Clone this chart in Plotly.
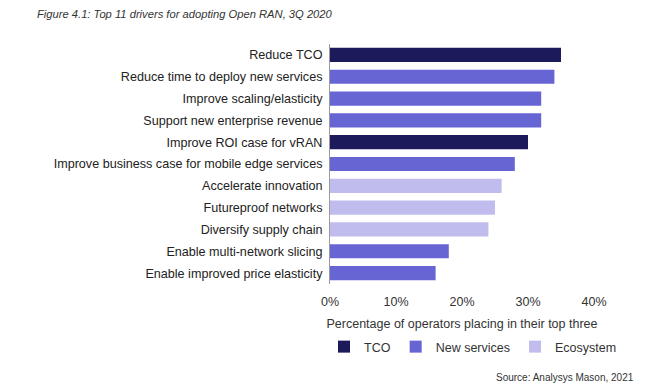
import plotly.graph_objects as go

categories = [
    "Reduce TCO",
    "Reduce time to deploy new services",
    "Improve scaling/elasticity",
    "Support new enterprise revenue",
    "Improve ROI case for vRAN",
    "Improve business case for mobile edge services",
    "Accelerate innovation",
    "Futureproof networks",
    "Diversify supply chain",
    "Enable multi-network slicing",
    "Enable improved price elasticity",
]
values = [35, 34, 32, 32, 30, 28, 26, 25, 24, 18, 16]
groups = ["TCO", "New services", "New services", "New services", "TCO",
          "New services", "Ecosystem", "Ecosystem", "Ecosystem",
          "New services", "New services"]
group_order = ["TCO", "New services", "Ecosystem"]
group_colors = {"TCO": "#1c1a5a", "New services": "#6764d4", "Ecosystem": "#c0bdee"}
tick_vals = [0, 10, 20, 30, 40]
tick_text = ["0%", "10%", "20%", "30%", "40%"]

FONT = "Liberation Sans"
fig = go.Figure()
for g in group_order:
    ys = [c for c, gg in zip(categories, groups) if gg == g]
    xs = [v for v, gg in zip(values, groups) if gg == g]
    fig.add_trace(go.Bar(
        x=xs, y=ys, orientation="h", name=g,
        marker=dict(color=group_colors[g], line=dict(width=0)),
    ))

# page body has an 8px default margin; figure is sized/offset to compensate
W, H = 640, 383
L, R, T, B = 322, 54, 36, 107
PW, PH = W - L - R, H - T - B

fig.update_layout(
    width=W, height=H,
    margin=dict(l=L, r=R, t=T, b=B, autoexpand=False),
    paper_bgcolor="white", plot_bgcolor="white",
    barmode="relative", bargap=0.35,
    font=dict(family=FONT, size=12, color="#333333"),
    showlegend=True,
    legend=dict(orientation="h",
                x=-6 / PW, xanchor="left", y=1 - (339 - T) / PH, yanchor="middle",
                font=dict(size=12.5, color="#333333"), traceorder="normal",
                itemwidth=30, tracegroupgap=0),
    xaxis=dict(range=[0, 40], tickvals=tick_vals, ticktext=tick_text,
               showgrid=False, zeroline=False, showline=False, ticks="",
               automargin=False, ticklabelstandoff=8,
               tickfont=dict(size=12.5, color="#333333"),
               title=dict(text="Percentage of operators placing in their top three",
                          font=dict(size=12.5, color="#333333"), standoff=11)),
    yaxis=dict(categoryorder="array", categoryarray=categories[::-1],
               range=[-0.5, 10.5], showgrid=False, zeroline=False,
               showline=True, linecolor="#9a9a9a", linewidth=1, ticks="",
               automargin=False, ticklabelstandoff=4,
               tickfont=dict(size=12.6, color="#222222")),
    annotations=[
        dict(text="<i>Figure 4.1: Top 11 drivers for adopting Open RAN, 3Q 2020</i>",
             xref="paper", yref="paper", x=(27 - L) / PW, y=1 + (T - 6) / PH,
             xanchor="left", yanchor="middle", showarrow=False,
             font=dict(size=11.2, color="#333333")),
        dict(text="Source: Analysys Mason, 2021",
             xref="paper", yref="paper", x=(628 - L) / PW, y=1 - (369 - T) / PH,
             xanchor="right", yanchor="middle", showarrow=False,
             font=dict(size=10, color="#333333")),
    ],
)

fig.write_html("out.html")
